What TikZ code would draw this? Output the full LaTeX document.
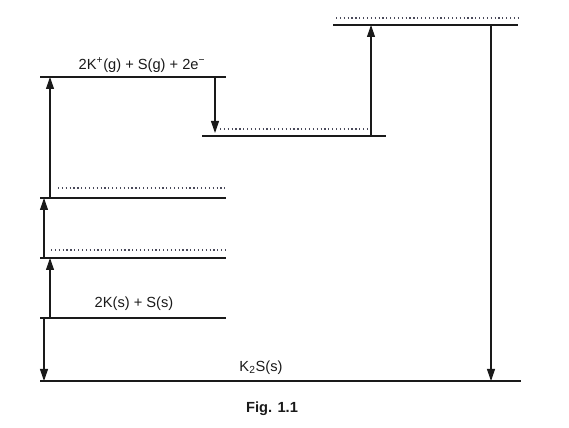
\documentclass[tikz,border=0pt]{standalone}
\usepackage{fontspec}
\setmainfont{Liberation Sans}
\usepackage{xcolor}
\usepackage{tikz}
\usetikzlibrary{arrows.meta,calc}
\definecolor{ink}{HTML}{1A1A1A}
\definecolor{dots}{HTML}{4A4A5A}
\tikzset{
  lvl/.style={draw=ink,line width=0.9pt},
  lvdot/.style={draw=dots,dotted,line width=0.9pt},
  fl/.style={-{Triangle[length=9pt,width=6pt]},draw=ink,line width=0.8pt},
  lab/.style={font=\fontsize{11}{13}\selectfont,text=ink,inner sep=0pt},
}
\begin{document}
\begin{tikzpicture}[x=0.75pt,y=-0.75pt]
  \useasboundingbox (0,0) rectangle (569,428);
  % energy levels (left ends)
  \coordinate (ks) at (40,381);
  \coordinate (el) at (40,318);
  \coordinate (la) at (40,258);
  \coordinate (lb) at (40,198);
  \coordinate (ion) at (40,77);
  \coordinate (lc) at (202,136);
  \coordinate (top) at (333,25);
  \draw[lvl] (ks) -- ++(481,0);
  \draw[lvl] (el) -- ++(186,0);
  \draw[lvl] (la) -- ++(186,0);
  \draw[lvl] (lb) -- ++(186,0);
  \draw[lvl] (ion) -- ++(186,0);
  \draw[lvl] (lc) -- ++(184,0);
  \draw[lvl] (top) -- ++(185,0);
  % dotted levels
  \draw[lvdot] ($(la)+(11,-8)$) -- ++(175,0);
  \draw[lvdot] ($(lb)+(18,-10)$) -- ++(168,0);
  \draw[lvdot] ($(lc)+(18,-7)$) -- ++(148,0);
  \draw[lvdot] ($(top)+(3,-7)$) -- ++(182,0);
  % labels
  \node[lab] (tion) at (142,65) {2K\textsuperscript{+}(g) + S(g) + 2e\textsuperscript{−}};
  \node[lab] (tel) at (134,304) {2K(s) + S(s)};
  \node[lab] (tks) at (261,368) {K\textsubscript{2}S(s)};
  \node[lab,font=\bfseries\fontsize{11}{13}\selectfont] (fig) at (272,409) {Fig. 1.1};
  % arrows
  \draw[fl] ($(el)+(4,0)$) -- ($(ks)+(4,0)$);
  \draw[fl] ($(el)+(10,0)$) -- ($(la)+(10,0)$);
  \draw[fl] ($(la)+(4,0)$) -- ($(lb)+(4,0)$);
  \draw[fl] ($(lb)+(10,0)$) -- ($(ion)+(10,0)$);
  \draw[fl] ($(ion)+(175,0)$) -- ($(lc)+(13,-3)$);
  \draw[fl] ($(lc)+(169,0)$) -- ($(top)+(38,0)$);
  \draw[fl] ($(top)+(158,0)$) -- ($(ks)+(451,0)$);
\end{tikzpicture}
\end{document}
